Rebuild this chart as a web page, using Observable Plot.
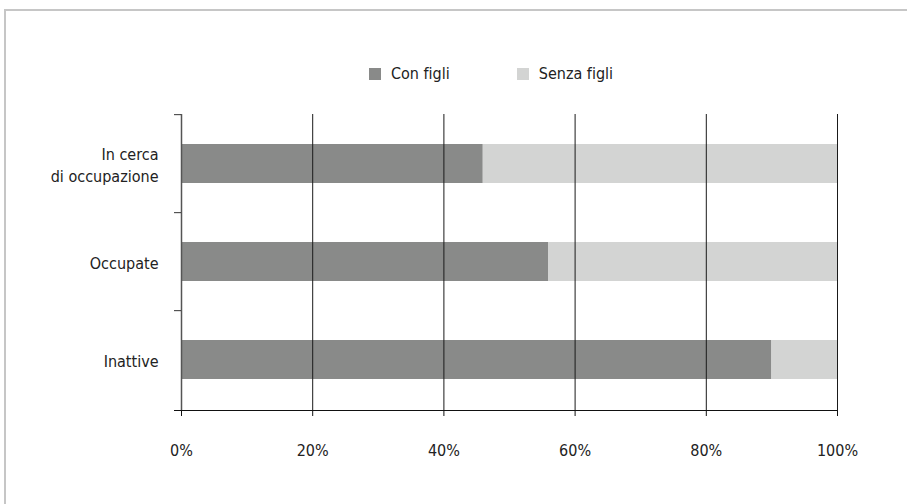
<!DOCTYPE html>
<html>
<head>
<meta charset="utf-8">
<script src="https://cdn.jsdelivr.net/npm/d3@7"></script>
<script src="https://cdn.jsdelivr.net/npm/@observablehq/plot@0.6"></script>
<style>
  html, body { margin: 0; padding: 0; background: #fff; }
  body { width: 907px; height: 504px; position: relative; overflow: hidden; font-family: "DejaVu Sans Condensed", "DejaVu Sans", sans-serif; font-variant-ligatures: none; }
  #box { position: absolute; left: 4px; top: 9px; width: 920px; height: 520px; border: 2px solid #c6c6c6; box-sizing: border-box; }
  #legend { position: absolute; left: 369px; top: 66px; display: flex; align-items: center; font-size: 16px; line-height: 16px; color: #222; }
  #legend .item { display: flex; align-items: center; margin-right: 67px; }
  #legend .sw { width: 12px; height: 12px; margin-right: 10px; }
  #chart { position: absolute; left: 0; top: 0; }
  #chart svg text { font-variant-ligatures: none; }
</style>
</head>
<body>
<div id="box"></div>
<div id="legend"></div>
<div id="chart"></div>
<script>
// Status groups, top to bottom
const categories = ["In cerca di occupazione", "Occupate", "Inattive"];
const categoryLabels = ["In cerca\ndi occupazione", "Occupate", "Inattive"];
// Share of women with and without children (%)
const series = ["Con figli", "Senza figli"];
const conFigli = [46, 56, 90];
const senzaFigli = [54, 44, 10];
const colors = ["#898a89", "#d3d4d3"];
const xTicks = [0, 20, 40, 60, 80, 100];

const rows = categories.flatMap((c, i) => [
  {group: c, series: series[0], value: conFigli[i]},
  {group: c, series: series[1], value: senzaFigli[i]}
]);

// Legend
const legend = document.getElementById("legend");
series.forEach((s, i) => {
  const item = document.createElement("div");
  item.className = "item";
  const sw = document.createElement("span");
  sw.className = "sw";
  sw.style.background = colors[i];
  const label = document.createElement("span");
  label.textContent = s;
  item.append(sw, label);
  legend.append(item);
});

const width = 907, height = 504;
const marginTop = 114, marginBottom = 94, marginLeft = 181, marginRight = 70;
const step = (height - marginTop - marginBottom) / categories.length;

const chart = Plot.plot({
  width, height, marginTop, marginBottom, marginLeft, marginRight,
  style: {fontFamily: "'DejaVu Sans Condensed', 'DejaVu Sans', sans-serif", fontSize: "16px", color: "#222", background: "transparent"},
  x: {domain: [0, 100]},
  y: {domain: categories, paddingInner: 0.6, paddingOuter: 0.3},
  color: {domain: series, range: colors},
  marks: [
    Plot.barX(rows, Plot.stackX({y: "group", x: "value", fill: "series", order: series})),
    // vertical gridlines
    Plot.ruleX(xTicks.slice(1), {stroke: "#1a1a1a", strokeWidth: 1}),
    // value axis baseline and y axis line
    Plot.frame({anchor: "bottom", stroke: "#111", insetLeft: -7}),
    Plot.ruleX([0], {stroke: "#555", strokeWidth: 1.5}),
    // category boundary ticks
    Plot.ruleY(categories, {y: d => d, x1: 0, x2: 0, insetLeft: -7, dy: -step / 2, stroke: "#333"}),
    Plot.axisX({ticks: xTicks, tickSize: 6, tickPadding: 28, tickFormat: d => d + "%", stroke: "#111", fill: "#222", label: null}),
    Plot.axisY({tickSize: 0, tickPadding: 23, dy: 0, tickFormat: (d) => categoryLabels[categories.indexOf(d)], lineHeight: 1.375, label: null, fill: "#222"})
  ]
});
document.getElementById("chart").append(chart);
</script>
</body>
</html>
